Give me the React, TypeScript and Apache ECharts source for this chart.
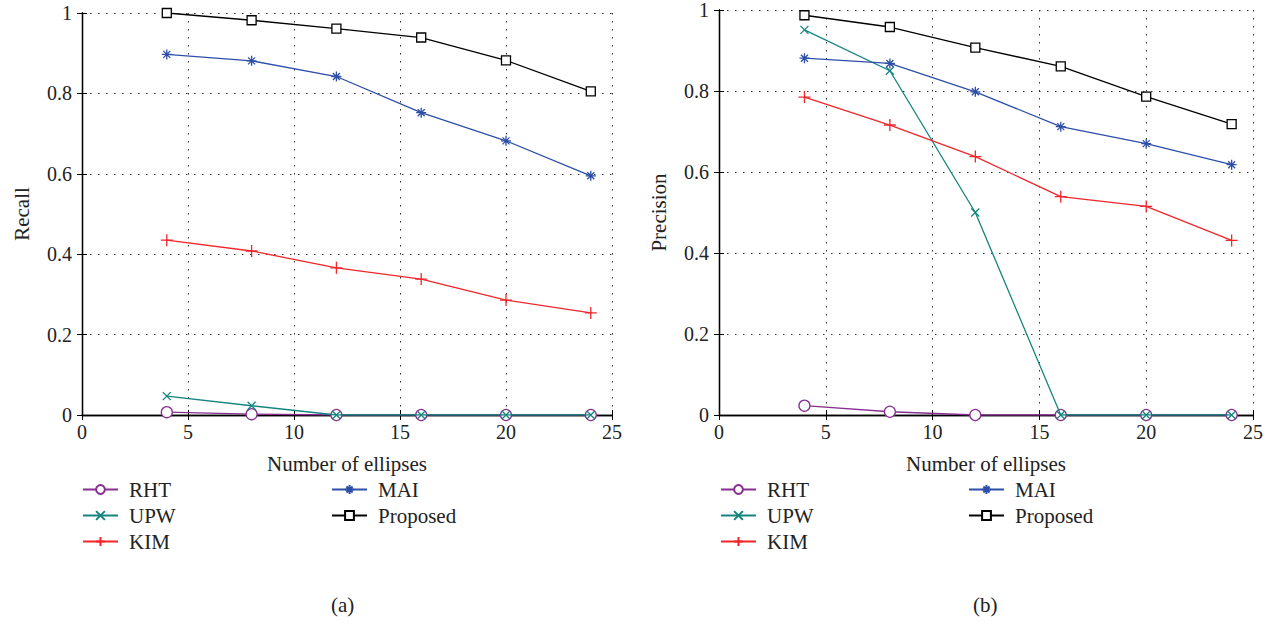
import React, { useEffect, useRef } from "react";
import * as echarts from "echarts";

const xValues = [4, 8, 12, 16, 20, 24];
const seriesNames = ["RHT", "UPW", "KIM", "MAI", "Proposed"];

const recallRHT = [0.007, 0.002, 0, 0, 0, 0];
const recallUPW = [0.047, 0.023, 0, 0, 0, 0];
const recallKIM = [0.435, 0.408, 0.366, 0.338, 0.286, 0.254];
const recallMAI = [0.897, 0.881, 0.842, 0.752, 0.682, 0.595];
const recallProposed = [1.0, 0.982, 0.961, 0.939, 0.882, 0.805];

const precisionRHT = [0.023, 0.008, 0, 0, 0, 0];
const precisionUPW = [0.951, 0.85, 0.5, 0, 0, 0];
const precisionKIM = [0.785, 0.716, 0.638, 0.539, 0.515, 0.431];
const precisionMAI = [0.881, 0.868, 0.798, 0.712, 0.67, 0.618];
const precisionProposed = [0.987, 0.958, 0.907, 0.861, 0.786, 0.718];

const xAxisTitle = "Number of ellipses";
const yTitles = ["Recall", "Precision"];
const panelLabels = ["(a)", "(b)"];

const FONT = "'Liberation Serif', 'Times New Roman', serif";

const styles: Record<string, { color: string; symbol: string; size: number }> = {
  RHT: { color: "#8a2f92", symbol: "circle", size: 11 },
  UPW: { color: "#138480", symbol: "path://M0,0L10,10M10,0L0,10", size: 8 },
  KIM: { color: "#f0262b", symbol: "path://M5,0L5,10M0,5L10,5", size: 12 },
  MAI: {
    color: "#2e4fa8",
    symbol: "path://M5,0L5,10M0,5L10,5M1.5,1.5L8.5,8.5M8.5,1.5L1.5,8.5",
    size: 10,
  },
  Proposed: { color: "#000000", symbol: "rect", size: 9 },
};

const grids = [
  { left: 82, top: 13, width: 530, height: 402 },
  { left: 719, top: 9, width: 534, height: 406 },
];

function App() {
  const ref = useRef<HTMLDivElement>(null);
  useEffect(() => {
    if (!ref.current) return;
    const chart = echarts.init(ref.current, null, { renderer: "svg" });
    const data = [
      [recallRHT, recallUPW, recallKIM, recallMAI, recallProposed],
      [precisionRHT, precisionUPW, precisionKIM, precisionMAI, precisionProposed],
    ];
    const gridLine = { show: true, lineStyle: { color: "#333", width: 1, type: [1.5, 6.5] as any } };
    const axisLine = { show: true, lineStyle: { color: "#000", width: 1.3 } };
    const tick = { show: true, inside: true, length: 5, lineStyle: { color: "#000", width: 1 } };
    const xAxes: any[] = [];
    const yAxes: any[] = [];
    grids.forEach((g, i) => {
      xAxes.push({
        type: "value",
        gridIndex: i,
        min: 0,
        max: 25,
        interval: 5,
        position: "bottom",
        axisLine,
        axisTick: tick,
        splitLine: gridLine,
        axisLabel: { fontFamily: FONT, fontSize: 20, color: "#222", margin: 7 },
        name: xAxisTitle,
        nameLocation: "middle",
        nameGap: 38,
        nameTextStyle: { fontFamily: FONT, fontSize: 21, color: "#222", lineHeight: 21 },
      });
      xAxes.push({
        type: "value",
        gridIndex: i,
        min: 0,
        max: 25,
        interval: 5,
        position: "top",
        axisLine,
        axisTick: tick,
        splitLine: { show: false },
        axisLabel: { show: false },
      });
      yAxes.push({
        type: "value",
        gridIndex: i,
        min: 0,
        max: 1,
        interval: 0.2,
        position: "left",
        axisLine,
        axisTick: tick,
        splitLine: gridLine,
        axisLabel: { fontFamily: FONT, fontSize: 20, color: "#222", margin: 10 },
        name: yTitles[i],
        nameLocation: "middle",
        nameRotate: 90,
        nameGap: 50,
        nameTextStyle: { fontFamily: FONT, fontSize: 21, color: "#222" },
      });
      yAxes.push({
        type: "value",
        gridIndex: i,
        min: 0,
        max: 1,
        interval: 0.2,
        position: "right",
        axisLine,
        axisTick: tick,
        splitLine: { show: false },
        axisLabel: { show: false },
      });
    });
    const series: any[] = [];
    data.forEach((set, gi) => {
      set.forEach((vals, si) => {
        const name = seriesNames[si];
        const st = styles[name];
        series.push({
          type: "line",
          name,
          xAxisIndex: gi * 2,
          yAxisIndex: gi * 2,
          data: vals.map((v, k) => [xValues[k], v]),
          symbol: st.symbol,
          symbolSize: st.size,
          showAllSymbol: true,
          lineStyle: { color: st.color, width: 1.3 },
          itemStyle: { color: "#fff", borderColor: st.color, borderWidth: 1.3 },
          emphasis: { disabled: true },
          z: 2 + si,
        });
      });
    });
    const legendBase = {
      orient: "vertical",
      itemWidth: 35,
      itemHeight: 11,
      itemGap: 5,
      selectedMode: false,
      textStyle: { fontFamily: FONT, fontSize: 21, color: "#222", lineHeight: 21, padding: [0, 0, 0, 6] },
      padding: 0,
    };
    const legendCols = [
      { left: 82, names: ["RHT", "UPW", "KIM"] },
      { left: 331, names: ["MAI", "Proposed"] },
      { left: 720, names: ["RHT", "UPW", "KIM"] },
      { left: 968, names: ["MAI", "Proposed"] },
    ];
    chart.setOption({
      animation: false,
      grid: grids.map((g) => ({ ...g })),
      xAxis: xAxes,
      yAxis: yAxes,
      series,
      legend: legendCols.map((c) => ({ ...legendBase, left: c.left, top: 479, data: c.names })),
      graphic: [
        {
          type: "text",
          left: 331,
          top: 594,
          style: { text: panelLabels[0], font: `21px ${FONT}`, fill: "#222" },
        },
        {
          type: "text",
          left: 973,
          top: 594,
          style: { text: panelLabels[1], font: `21px ${FONT}`, fill: "#222" },
        },
      ],
    });
    return () => chart.dispose();
  }, []);
  return (
    <div
      ref={ref}
      style={{ position: "fixed", left: 0, top: 0, width: 1270, height: 625, background: "#fff" }}
    />
  );
}

export default App;
